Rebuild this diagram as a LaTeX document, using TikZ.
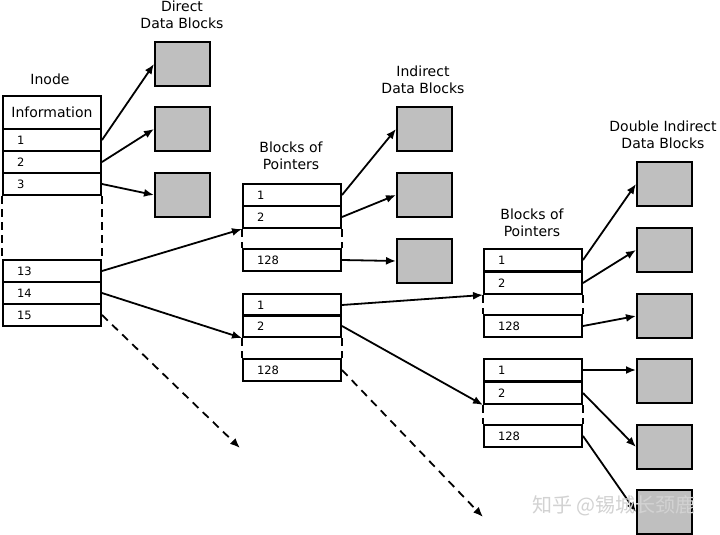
\documentclass[tikz,border=0pt]{standalone}
\usepackage{fontspec}
\setmainfont{DejaVu Sans}
\newfontfamily\cjk{Noto Sans CJK SC}
\usetikzlibrary{arrows.meta}
\begin{document}
\begin{tikzpicture}[x=1pt,y=-1pt,
 cell/.style={draw, line width=2pt, anchor=north west, minimum height=22pt, text width=70pt, inner xsep=14pt, inner ysep=0pt, align=left, font=\fontsize{11.5}{13}\selectfont},
 datablk/.style={draw, line width=2pt, fill=gray!50, anchor=north west, minimum width=55pt, minimum height=44pt, inner sep=0pt},
 title/.style={align=center, font=\fontsize{14}{17}\selectfont},
 arr/.style={line width=1.8pt, -{Latex[length=10pt,width=8pt]}},
 gap/.style={line width=2pt, dash pattern=on 8pt off 5pt},
 darr/.style={arr, dash pattern=on 8pt off 6pt},
]
\useasboundingbox[fill=white] (0,0) rectangle (720,535);

% Inode
\node[title] (tInode) at (50,79) {Inode};
\node[cell, align=center, minimum height=33pt, font=\fontsize{14}{17}\selectfont, inner xsep=0pt, text width=98pt] (info) at (2,95) {Information};
\node[cell] (i1) at (2,128) {1};
\node[cell] (i2) at (2,150) {2};
\node[cell] (i3) at (2,172) {3};
\node[cell] (i13) at (2,259) {13};
\node[cell] (i14) at (2,281) {14};
\node[cell] (i15) at (2,303) {15};
\draw[gap] (i3.south west) -- (i13.north west);
\draw[gap] (i3.south east) -- (i13.north east);

% Direct data blocks
\node[title] (tDirect) at (182,15) {Direct\\Data Blocks};
\node[datablk] (d1) at (154,41) {};
\node[datablk] (d2) at (154,106) {};
\node[datablk] (d3) at (154,172) {};

% Middle blocks of pointers
\node[title] (tMid) at (291,156) {Blocks of\\Pointers};
\node[cell] (p1) at (242,183) {1};
\node[cell] (p2) at (242,205) {2};
\node[cell] (p128) at (242,248) {128};
\draw[gap] (p2.south west) -- (p128.north west);
\draw[gap] (p2.south east) -- (p128.north east);
\node[cell] (q1) at (242,293) {1};
\node[cell] (q2) at (242,314) {2};
\node[cell] (q128) at (242,358) {128};
\draw[gap] (q2.south west) -- (q128.north west);
\draw[gap] (q2.south east) -- (q128.north east);

% Indirect data blocks
\node[title] (tInd) at (423,80) {Indirect\\Data Blocks};
\node[datablk] (e1) at (396,106) {};
\node[datablk] (e2) at (396,172) {};
\node[datablk] (e3) at (396,238) {};

% Right blocks of pointers
\node[title] (tRight) at (532,223) {Blocks of\\Pointers};
\node[cell] (r1) at (483,248) {1};
\node[cell] (r2) at (483,271) {2};
\node[cell] (r128) at (483,314) {128};
\draw[gap] (r2.south west) -- (r128.north west);
\draw[gap] (r2.south east) -- (r128.north east);
\node[cell] (s1) at (483,358) {1};
\node[cell] (s2) at (483,381) {2};
\node[cell] (s128) at (483,424) {128};
\draw[gap] (s2.south west) -- (s128.north west);
\draw[gap] (s2.south east) -- (s128.north east);

% Double indirect data blocks
\node[title] (tDbl) at (663,135) {Double Indirect\\Data Blocks};
\node[datablk] (f1) at (636,161) {};
\node[datablk] (f2) at (636,227) {};
\node[datablk] (f3) at (636,293) {};
\node[datablk] (f4) at (636,358) {};
\node[datablk] (f5) at (636,424) {};
\node[datablk] (f6) at (636,489) {};

% Connectors
\draw[arr] (i1.east) -- (d1.west);
\draw[arr] (i2.east) -- (d2.west);
\draw[arr] (i3.east) -- (d3.west);
\draw[arr] (i13.east) -- (p2.south west);
\draw[arr] (i14.east) -- (q2.south west);
\coordinate (c15) at (240,448);
\draw[darr] (i15.east) -- (c15);

\draw[arr] (p1.east) -- (e1.west);
\draw[arr] (p2.east) -- (e2.west);
\draw[arr] (p128.east) -- (e3.west);
\draw[arr] (q1.east) -- (r2.south west);
\draw[arr] (q2.east) -- (s2.south west);
\coordinate (c128) at (483,517);
\draw[darr] (q128.east) -- (c128);

\draw[arr] (r1.east) -- (f1.west);
\draw[arr] (r2.east) -- (f2.west);
\draw[arr] (r128.east) -- (f3.west);
\draw[arr] (s1.east) -- (s1.east -| f4.west);
\draw[arr] (s2.east) -- (f5.west);
\draw[arr] (s128.east) -- (f6.west);

% Watermark
\node[font=\cjk\fontsize{20}{24}\selectfont, text=gray!35] (wm) at (614,506) {知乎 @锡城长颈鹿};
\end{tikzpicture}
\end{document}
